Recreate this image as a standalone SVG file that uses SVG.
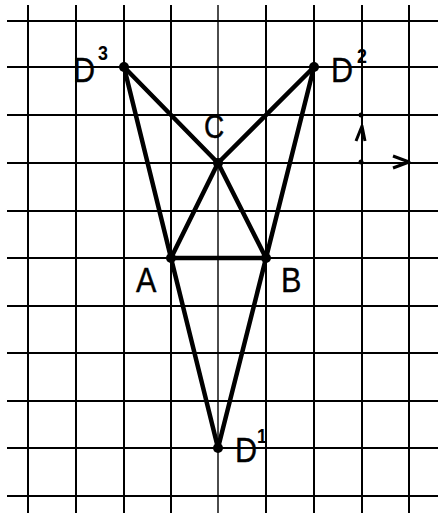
<svg xmlns="http://www.w3.org/2000/svg" width="438" height="513" viewBox="0 0 438 513">
<style>
.grid line{stroke:#000;stroke-width:2}
.seg{stroke:#000;stroke-width:4.5;stroke-linecap:round;fill:none}
.dot{fill:#000}
.lbl{font-family:"Liberation Sans",Arial,sans-serif;font-size:36px;fill:#000;stroke:#000;stroke-width:0.4}
.sup{font-family:"Liberation Sans",Arial,sans-serif;font-size:21px;font-weight:bold;fill:#000}
.ax{stroke:#000;stroke-width:3;fill:none;stroke-linejoin:round}
</style>
<rect width="438" height="513" fill="#fff"/>
<g class="grid" id="grid">
<line x1="28" y1="5" x2="28" y2="513"/>
<line x1="76" y1="5" x2="76" y2="513"/>
<line x1="124" y1="5" x2="124" y2="513"/>
<line x1="171" y1="5" x2="171" y2="513"/>
<line x1="218" y1="5" x2="218" y2="513" style="stroke-width:1.4"/>
<line x1="266" y1="5" x2="266" y2="513"/>
<line x1="314" y1="5" x2="314" y2="513"/>
<line x1="362" y1="5" x2="362" y2="513"/>
<line x1="409" y1="5" x2="409" y2="513"/>
<line x1="7" y1="21" x2="438" y2="21"/>
<line x1="7" y1="67" x2="438" y2="67"/>
<line x1="7" y1="115" x2="438" y2="115"/>
<line x1="7" y1="163" x2="438" y2="163"/>
<line x1="7" y1="211" x2="438" y2="211"/>
<line x1="7" y1="258" x2="438" y2="258"/>
<line x1="7" y1="306" x2="438" y2="306"/>
<line x1="7" y1="353" x2="438" y2="353"/>
<line x1="7" y1="401" x2="438" y2="401"/>
<line x1="7" y1="448" x2="438" y2="448"/>
<line x1="7" y1="496" x2="438" y2="496"/>
</g>
<g id="connectors">
<line class="seg" x1="124" y1="67" x2="218" y2="163"/>
<line class="seg" x1="314" y1="67" x2="218" y2="163"/>
<line class="seg" x1="124" y1="67" x2="171" y2="258"/>
<line class="seg" x1="314" y1="67" x2="266" y2="258"/>
<line class="seg" x1="171" y1="258" x2="218" y2="163"/>
<line class="seg" x1="266" y1="258" x2="218" y2="163"/>
<line class="seg" x1="171" y1="258" x2="266" y2="258"/>
<line class="seg" x1="171" y1="258" x2="218" y2="448"/>
<line class="seg" x1="266" y1="258" x2="218" y2="448"/>
</g>
<g id="D3">
<circle class="dot" cx="124" cy="67" r="5"/>
<text class="lbl" transform="translate(73,82) scale(0.85,1)">D</text>
<text class="sup" transform="translate(98,60) scale(0.85,1)">3</text>
</g>
<g id="D2">
<circle class="dot" cx="314" cy="67" r="5"/>
<text class="lbl" transform="translate(331,82) scale(0.85,1)">D</text>
<text class="sup" transform="translate(357,63) scale(0.85,1)">2</text>
</g>
<g id="C">
<circle class="dot" cx="218" cy="163" r="5"/>
<text class="lbl" style="font-size:33px" transform="translate(204,138) scale(0.85,1)">C</text>
</g>
<g id="A">
<circle class="dot" cx="171" cy="258" r="5"/>
<text class="lbl" transform="translate(136,292) scale(0.85,1)">A</text>
</g>
<g id="B">
<circle class="dot" cx="266" cy="258" r="5"/>
<text class="lbl" transform="translate(281,292) scale(0.85,1)">B</text>
</g>
<g id="D1">
<circle class="dot" cx="218" cy="448" r="5"/>
<text class="lbl" transform="translate(235,462) scale(0.85,1)">D</text>
<text class="sup" transform="translate(257,443) scale(0.85,1)">1</text>
</g>
<g id="axes">
<circle class="dot" cx="361" cy="115" r="2.5"/>
<circle class="dot" cx="361" cy="162" r="2.5"/>
<polyline class="ax" points="356,141 362,126 365,141"/>
<polyline class="ax" points="393,156 409,162 393,168"/>
</g>
</svg>
